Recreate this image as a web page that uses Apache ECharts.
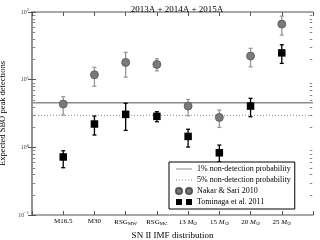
<!DOCTYPE html>
<html><head><meta charset="utf-8">
<script src="https://cdn.jsdelivr.net/npm/echarts@6/dist/echarts.min.js"></script>
<style>html,body{margin:0;padding:0;background:#fff}#c{width:320px;height:240px}</style>
</head><body><div id="c"></div>
<script>
var categories = ['M16.5','M30','RSG_MW','RSG_MC','13','15','20','25'];
var categoryLabels = ['M16.5','M30','RSG{sub|MW}','RSG{sub|MC}','13 {it|M}{sub|⊙}','15 {it|M}{sub|⊙}','20 {it|M}{sub|⊙}','25 {it|M}{sub|⊙}'];
var nakar = [4.36, 11.8, 18.0, 16.8, 4.07, 2.77, 22.3, 66.2];
var nakarLow = [3.0, 8.0, 10.9, 13.5, 2.93, 1.97, 15.5, 45.6];
var nakarHigh = [5.6, 15.2, 25.3, 20.4, 5.1, 3.56, 29.0, 87.0];
var tominaga = [0.72, 2.21, 3.07, 2.87, 1.45, 0.83, 4.07, 24.9];
var tominagaLow = [0.50, 1.52, 1.78, 2.39, 1.01, 0.61, 2.83, 17.4];
var tominagaHigh = [0.89, 2.90, 4.47, 3.36, 1.85, 1.08, 5.30, 32.8];
var line1pct = 4.56;
var line5pct = 2.97;
var minorMultipliers = [2,3,4,5,6,7,8,9];
var minorDecades = [0.1, 1, 10];

var F = 'Liberation Serif';
var xPos = categories.map(function(_, i){ return i + 1; });
function pts(v){ return v.map(function(y,i){ return [xPos[i], y]; }); }
function errData(lo, hi){ return lo.map(function(l,i){ return [xPos[i], l, hi[i]]; }); }
function errRender(color){
  return function(params, api){
    var x = api.value(0);
    var p1 = api.coord([x, api.value(1)]);
    var p2 = api.coord([x, api.value(2)]);
    var cw = 2;
    var st = {stroke: color, lineWidth: 1.3};
    return {type:'group', children:[
      {type:'line', shape:{x1:p1[0],y1:p1[1],x2:p2[0],y2:p2[1]}, style:st},
      {type:'line', shape:{x1:p1[0]-cw,y1:p1[1],x2:p1[0]+cw,y2:p1[1]}, style:st},
      {type:'line', shape:{x1:p2[0]-cw,y1:p2[1],x2:p2[0]+cw,y2:p2[1]}, style:st}
    ]};
  };
}
var minorVals = [];
minorDecades.forEach(function(d){ minorMultipliers.forEach(function(m){ minorVals.push([1, d*m]); }); });

var frame = '#8c8c8c';
var chart = echarts.init(document.getElementById('c'));
chart.setOption({
  animation: false,
  title: {text: '2013A + 2014A + 2015A', left: 172, top: 0, textAlign: 'center',
    textStyle: {fontFamily: F, fontSize: 9, fontWeight: 'normal', color: '#000'}},
  grid: {left: 32, right: 7, top: 12, bottom: 25, outerBoundsMode: 'none', containLabel: false},
  xAxis: [{
    type: 'value', min: 0, max: 9, interval: 1, position: 'bottom',
    name: 'SN II IMF distribution', nameLocation: 'middle', nameGap: 12,
    nameTextStyle: {fontFamily: F, fontSize: 9, color: '#000'},
    axisLine: {lineStyle: {color: frame, width: 1.5}},
    axisTick: {inside: true, length: 4, lineStyle: {color: '#555'}},
    splitLine: {show: false},
    axisLabel: {margin: 3, fontFamily: F, fontSize: 7, color: '#000',
      formatter: function(v){ return (v >= 1 && v <= 8) ? categoryLabels[v-1] : ''; },
      rich: {sub: {fontSize: 5, fontFamily: F, verticalAlign: 'bottom', padding:[3,0,0,0]},
             it: {fontSize: 7, fontFamily: F, fontStyle: 'italic'}}}
  },{
    type: 'value', min: 0, max: 9, interval: 1, position: 'top',
    axisLine: {lineStyle: {color: frame, width: 1.5}},
    axisTick: {inside: true, length: 4, lineStyle: {color: '#555'}},
    axisLabel: {show: false}, splitLine: {show: false}
  }],
  yAxis: [{
    type: 'log', logBase: 10, min: 0.1, max: 100, position: 'left',
    name: 'Expected SBO peak detections', nameLocation: 'middle', nameGap: 15, nameRotate: 90,
    nameTextStyle: {fontFamily: F, fontSize: 8.5, color: '#000'},
    axisLine: {show: true, lineStyle: {color: frame, width: 1.5}},
    axisTick: {show: true, inside: true, length: 4, lineStyle: {color: '#555'}},
    splitLine: {show: false},
    axisLabel: {margin: 3, fontFamily: F, fontSize: 6, color: '#444',
      formatter: function(v){ var e = Math.round(Math.log10(v)); return '{b|10}{s|' + (e < 0 ? '−' + (-e) : e) + '}'; },
      rich: {b: {fontSize: 6, fontFamily: F, color: '#444'}, s: {fontSize: 4.5, fontFamily: F, color: '#444', verticalAlign: 'top', padding: [0,0,4,0]}}}
  },{
    type: 'log', logBase: 10, min: 0.1, max: 100, position: 'right',
    axisLine: {show: true, lineStyle: {color: frame, width: 1.5}},
    axisTick: {show: true, inside: true, length: 4, lineStyle: {color: '#555'}},
    axisLabel: {show: false}, splitLine: {show: false}
  }],
  legend: {
    orient: 'vertical', left: 169, top: 162, padding: [3, 4, 3, 6], itemGap: 3,
    itemWidth: 16, itemHeight: 6, borderColor: '#000', borderWidth: 1, backgroundColor: '#fff',
    textStyle: {fontFamily: F, fontSize: 8, color: '#000'},
    data: [
      {name: '1% non-detection probability', icon: 'path://M0,2.5h16v1h-16z'},
      {name: '5% non-detection probability', icon: 'path://M0,2.5h1v1h-1zM3,2.5h1v1h-1zM6,2.5h1v1h-1zM9,2.5h1v1h-1zM12,2.5h1v1h-1zM15,2.5h1v1h-1z'},
      {name: 'Nakar & Sari 2010', icon: 'path://M0,3a3,3 0 1,0 6,0a3,3 0 1,0 -6,0zM10,3a3,3 0 1,0 6,0a3,3 0 1,0 -6,0z'},
      {name: 'Tominaga et al. 2011', icon: 'path://M0,0h6v6h-6zM10,0h6v6h-6z'}
    ]
  },
  series: [
    {name: '1% non-detection probability', type: 'line', data: [[0, line1pct],[9, line1pct]], showSymbol: false,
      lineStyle: {color: '#8c8c8c', width: 1.5}, itemStyle: {color: '#8c8c8c'}, z: 1},
    {name: '5% non-detection probability', type: 'line', data: [[0, line5pct],[9, line5pct]], showSymbol: false,
      lineStyle: {color: '#8c8c8c', width: 1, type: [1, 2]}, itemStyle: {color: '#8c8c8c'}, z: 1},
    {type: 'custom', renderItem: function(params, api){
        var y = Math.round(api.coord([api.value(0), api.value(1)])[1]) + 0.5;
        var cs = params.coordSys;
        var l = cs.x + 0.75, r = cs.x + cs.width - 0.75;
        var st = {stroke: '#666', lineWidth: 0.8};
        return {type:'group', children:[
          {type:'line', shape:{x1:l,y1:y,x2:l+2.5,y2:y}, style:st},
          {type:'line', shape:{x1:r-2.5,y1:y,x2:r,y2:y}, style:st}]};
      }, data: minorVals, z: 10, silent: true, clip: false},
    {type: 'custom', renderItem: errRender('#999999'), data: errData(nakarLow, nakarHigh), z: 3, silent: true},
    {type: 'custom', renderItem: errRender('#000000'), data: errData(tominagaLow, tominagaHigh), z: 3, silent: true},
    {name: 'Nakar & Sari 2010', type: 'scatter', data: pts(nakar), symbol: 'circle', symbolSize: 8,
      itemStyle: {color: '#7a7a7a', borderColor: '#555', borderWidth: 0.8, opacity: 1}, z: 5},
    {name: 'Tominaga et al. 2011', type: 'scatter', data: pts(tominaga), symbol: 'rect', symbolSize: 7.5,
      itemStyle: {color: '#000', opacity: 1}, z: 5}
  ]
});
</script></body></html>
